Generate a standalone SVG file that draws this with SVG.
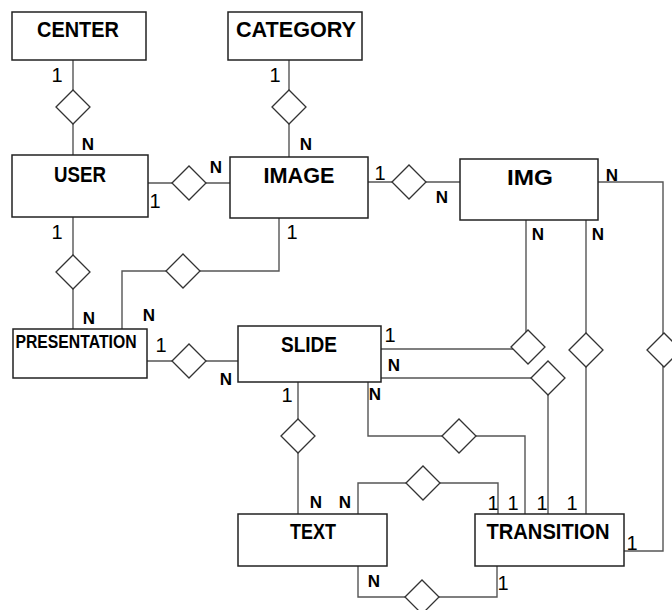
<svg xmlns="http://www.w3.org/2000/svg" width="672" height="610" viewBox="0 0 672 610">
<style>
.box{fill:#fff;stroke:#222;stroke-width:1.5}
.ln{fill:none;stroke:#555;stroke-width:1.4}
.dm{fill:#fff;stroke:#333;stroke-width:1.3}
.t{font-family:"Liberation Sans",Arial,sans-serif;font-weight:bold;font-size:22px;fill:#000;text-anchor:middle}
.tp{font-size:18px}
.n{font-family:"Liberation Sans",Arial,sans-serif;font-weight:bold;font-size:17px;fill:#000;text-anchor:middle}
.o{font-family:"Liberation Sans",Arial,sans-serif;font-size:20px;fill:#000;text-anchor:middle}
</style>
<defs>
<path id="d" d="M-17,0 L0,-17 L17,0 L0,17 Z"/>
</defs>
<rect width="672" height="610" fill="#fff"/>
<g id="connectors">
<path class="ln" d="M73,60 V155"/>
<path class="ln" d="M289,60 V157"/>
<path class="ln" d="M148,183 H230"/>
<path class="ln" d="M368,182 H460"/>
<path class="ln" d="M598,182 H663 V551 H624"/>
<path class="ln" d="M73,217 V329"/>
<path class="ln" d="M279,218 V271 H122 V329"/>
<path class="ln" d="M147,361 H238"/>
<path class="ln" d="M526,220 V347"/>
<path class="ln" d="M381,349 H520"/>
<path class="ln" d="M381,378 H548 V514"/>
<path class="ln" d="M586,220 V514"/>
<path class="ln" d="M298,382 V514"/>
<path class="ln" d="M368,382 V436 H525 V514"/>
<path class="ln" d="M358,514 V483 H498 V514"/>
<path class="ln" d="M358,566 V597 H497 V566"/>
<use href="#d" class="dm" x="73" y="107"/>
<use href="#d" class="dm" x="289" y="107"/>
<use href="#d" class="dm" x="189" y="183"/>
<use href="#d" class="dm" x="409" y="182"/>
<use href="#d" class="dm" x="664" y="350"/>
<use href="#d" class="dm" x="73" y="272"/>
<use href="#d" class="dm" x="183" y="271"/>
<use href="#d" class="dm" x="189" y="361"/>
<use href="#d" class="dm" x="528" y="347"/>
<use href="#d" class="dm" x="548" y="378"/>
<use href="#d" class="dm" x="586" y="350"/>
<use href="#d" class="dm" x="298" y="436"/>
<use href="#d" class="dm" x="459" y="436"/>
<use href="#d" class="dm" x="423" y="483"/>
<use href="#d" class="dm" x="422" y="597"/>
</g>
<g id="labels">
<text class="o" x="57" y="82">1</text>
<text class="n" x="88" y="150">N</text>
<text class="o" x="275" y="82">1</text>
<text class="n" x="306" y="150">N</text>
<text class="o" x="155" y="208">1</text>
<text class="n" x="216" y="173">N</text>
<text class="o" x="380" y="180">1</text>
<text class="n" x="442" y="203">N</text>
<text class="n" x="612" y="181">N</text>
<text class="n" x="538" y="240">N</text>
<text class="n" x="598" y="240">N</text>
<text class="o" x="57" y="239">1</text>
<text class="o" x="292" y="239">1</text>
<text class="n" x="89" y="324">N</text>
<text class="n" x="149" y="321">N</text>
<text class="o" x="161" y="352">1</text>
<text class="n" x="226" y="385">N</text>
<text class="o" x="390" y="342">1</text>
<text class="n" x="394" y="371">N</text>
<text class="o" x="287" y="402">1</text>
<text class="n" x="375" y="400">N</text>
<text class="n" x="316" y="508">N</text>
<text class="n" x="345" y="508">N</text>
<text class="o" x="493" y="510">1</text>
<text class="o" x="513" y="510">1</text>
<text class="o" x="542" y="510">1</text>
<text class="o" x="572" y="510">1</text>
<text class="o" x="632" y="550">1</text>
<text class="n" x="374" y="587">N</text>
<text class="o" x="503" y="590">1</text>
</g>
<g id="center"><rect class="box" x="12" y="12" width="134" height="48"/><text class="t" x="78" y="37" textLength="82" lengthAdjust="spacingAndGlyphs">CENTER</text></g>
<g id="category"><rect class="box" x="228" y="12" width="134" height="48"/><text class="t" x="296" y="37" textLength="120" lengthAdjust="spacingAndGlyphs">CATEGORY</text></g>
<g id="user"><rect class="box" x="12" y="155" width="136" height="62"/><text class="t" x="80" y="182" textLength="52" lengthAdjust="spacingAndGlyphs">USER</text></g>
<g id="image"><rect class="box" x="230" y="157" width="138" height="61"/><text class="t" x="299" y="183" textLength="71" lengthAdjust="spacingAndGlyphs">IMAGE</text></g>
<g id="img"><rect class="box" x="460" y="159" width="138" height="61"/><text class="t" x="530" y="185" textLength="46" lengthAdjust="spacingAndGlyphs">IMG</text></g>
<g id="presentation"><rect class="box" x="13" y="329" width="134" height="49"/><text class="t tp" x="76" y="348" textLength="121" lengthAdjust="spacingAndGlyphs">PRESENTATION</text></g>
<g id="slide"><rect class="box" x="238" y="326" width="143" height="56"/><text class="t" x="309" y="352" textLength="56" lengthAdjust="spacingAndGlyphs">SLIDE</text></g>
<g id="text"><rect class="box" x="238" y="514" width="149" height="52"/><text class="t" x="313" y="539" textLength="46" lengthAdjust="spacingAndGlyphs">TEXT</text></g>
<g id="transition"><rect class="box" x="475" y="514" width="149" height="52"/><text class="t" x="548" y="539" textLength="123" lengthAdjust="spacingAndGlyphs">TRANSITION</text></g>
</svg>
